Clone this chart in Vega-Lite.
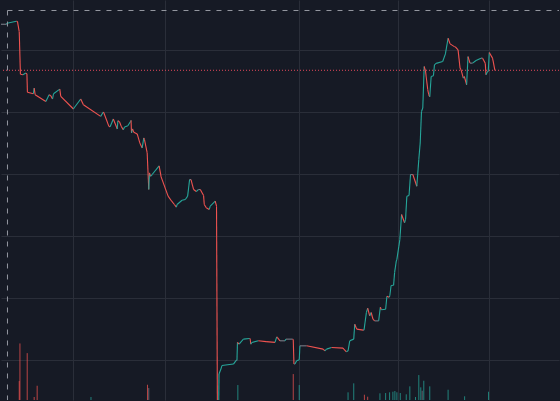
{
  "$schema": "https://vega.github.io/schema/vega-lite/v6.json",
  "width": 560,
  "height": 401,
  "autosize": {"type": "fit", "contains": "padding"},
  "padding": 0,
  "background": "#161a25",
  "config": {
    "view": {"stroke": null},
    "axis": {"grid": true, "gridColor": "#2a2e39", "gridWidth": 1, "gridOpacity": 1, "labels": false, "ticks": false, "domain": false, "title": null}
  },
  "datasets": {
    "price": [
      {"t":0,"p":64.13},{"t":5.5,"p":64.13},{"t":6,"p":64.29},{"t":15.5,"p":64.62},{"t":16.5,"p":64.58},{"t":18.3,"p":62.94},{"t":19.5,"p":56.06},{"t":22,"p":55.98},{"t":25,"p":56.26},{"t":26,"p":56.14},{"t":26.5,"p":53.17},{"t":32.5,"p":52.93},{"t":33.3,"p":53.84},{"t":34.3,"p":52.77},{"t":45,"p":51.69},{"t":48.3,"p":52.77},{"t":50,"p":52.61},{"t":51.7,"p":52.08},{"t":52.7,"p":52.93},{"t":59,"p":53.68},{"t":60,"p":52.49},{"t":72.7,"p":50.47},{"t":73.3,"p":50.63},{"t":80,"p":52.08},{"t":82.7,"p":51.16},{"t":100,"p":49.28},{"t":102.7,"p":49.99},{"t":103.3,"p":49.83},{"t":108.3,"p":47.67},{"t":109.5,"p":47.62},{"t":112.7,"p":48.86},{"t":116.7,"p":47.25},{"t":117.3,"p":48.59},{"t":119,"p":48.38},{"t":120.7,"p":47.67},{"t":122.7,"p":47.14},{"t":124,"p":47.57},{"t":127.3,"p":47.78},{"t":130,"p":48.47},{"t":130.5,"p":48.64},{"t":131,"p":46.61},{"t":132,"p":47.25},{"t":133.3,"p":46.71},{"t":136.7,"p":46.45},{"t":139.3,"p":45.00},{"t":141.7,"p":44.20},{"t":143.3,"p":45.81},{"t":144,"p":45.53},{"t":146.7,"p":43.39},{"t":148.3,"p":37.49},{"t":149,"p":40.18},{"t":150,"p":39.63},{"t":151.7,"p":39.91},{"t":158.7,"p":41.30},{"t":160.7,"p":39.54},{"t":167.7,"p":36.42},{"t":171.3,"p":35.61},{"t":174,"p":35.08},{"t":176,"p":34.65},{"t":176.7,"p":35.08},{"t":181.7,"p":35.77},{"t":185,"p":35.89},{"t":187.3,"p":36.42},{"t":189.3,"p":39.10},{"t":190.7,"p":39.10},{"t":193.3,"p":37.49},{"t":196,"p":37.17},{"t":198,"p":37.49},{"t":200,"p":37.49},{"t":203.3,"p":36.53},{"t":204,"p":35.08},{"t":206,"p":34.55},{"t":209,"p":34.28},{"t":210,"p":34.81},{"t":215,"p":35.61},{"t":216.3,"p":34.81},{"t":217.2,"p":1.32},{"t":218.4,"p":1.32},{"t":218.8,"p":7.75},{"t":220.7,"p":8.56},{"t":221.7,"p":9.12},{"t":233.3,"p":9.36},{"t":236,"p":9.95},{"t":236.8,"p":9.95},{"t":237.3,"p":12.85},{"t":239,"p":12.57},{"t":241.7,"p":13.11},{"t":243.3,"p":13.38},{"t":249.3,"p":13.49},{"t":250,"p":13.49},{"t":250.7,"p":12.57},{"t":251.7,"p":12.85},{"t":258.3,"p":13.11},{"t":266,"p":12.98},{"t":275,"p":12.85},{"t":276.7,"p":13.75},{"t":277.3,"p":13.65},{"t":280,"p":13.11},{"t":285,"p":13.11},{"t":286,"p":13.38},{"t":292.7,"p":13.38},{"t":293.3,"p":13.30},{"t":294,"p":9.36},{"t":295,"p":9.36},{"t":296.7,"p":9.89},{"t":299.3,"p":10.05},{"t":300,"p":12.30},{"t":306.7,"p":12.30},{"t":323.3,"p":11.77},{"t":325,"p":11.50},{"t":326.7,"p":11.77},{"t":331.7,"p":12.04},{"t":343.3,"p":11.93},{"t":344,"p":11.77},{"t":346.7,"p":11.34},{"t":348.3,"p":11.50},{"t":350,"p":13.11},{"t":354,"p":13.38},{"t":355,"p":15.79},{"t":357,"p":14.99},{"t":363.5,"p":14.83},{"t":364.3,"p":14.83},{"t":366.7,"p":17.67},{"t":368,"p":18.36},{"t":370,"p":17.12},{"t":371.5,"p":17.67},{"t":373.3,"p":16.59},{"t":375,"p":16.32},{"t":379,"p":16.32},{"t":380.7,"p":18.52},{"t":381.7,"p":18.12},{"t":386,"p":18.20},{"t":387.3,"p":20.29},{"t":389.5,"p":20.13},{"t":390.2,"p":20.37},{"t":391.5,"p":22.03},{"t":394,"p":22.06},{"t":395,"p":24.10},{"t":396.7,"p":25.97},{"t":397.3,"p":26.24},{"t":399.3,"p":28.38},{"t":400.3,"p":29.46},{"t":402,"p":33.47},{"t":405,"p":32.14},{"t":406,"p":32.67},{"t":407.3,"p":36.42},{"t":409.5,"p":36.53},{"t":411,"p":39.91},{"t":413.3,"p":39.91},{"t":417.3,"p":38.02},{"t":419.3,"p":42.32},{"t":420.7,"p":45.00},{"t":422,"p":50.08},{"t":423.3,"p":50.63},{"t":424.7,"p":57.32},{"t":426,"p":56.63},{"t":428.3,"p":53.57},{"t":429.3,"p":52.77},{"t":430.3,"p":52.45},{"t":431.7,"p":55.71},{"t":434,"p":55.82},{"t":435,"p":57.59},{"t":436.7,"p":57.83},{"t":443.3,"p":58.12},{"t":446,"p":59.36},{"t":448.7,"p":61.88},{"t":450.7,"p":60.97},{"t":455,"p":60.53},{"t":456,"p":60.48},{"t":458.7,"p":60.00},{"t":460.7,"p":57.06},{"t":461.7,"p":56.79},{"t":464,"p":55.45},{"t":465,"p":55.71},{"t":467.3,"p":54.37},{"t":468.7,"p":58.92},{"t":470.7,"p":57.86},{"t":473.3,"p":57.86},{"t":476.7,"p":58.28},{"t":481.7,"p":58.67},{"t":483.3,"p":58.67},{"t":486,"p":57.86},{"t":486.7,"p":55.98},{"t":488.3,"p":56.51},{"t":489,"p":56.51},{"t":490,"p":59.57},{"t":493.3,"p":58.67},{"t":495.7,"p":56.71}
    ],
    "volume": [
      {"t":18.3,"v":19,"d":"down"},{"t":19,"v":56.7,"d":"down"},{"t":26.3,"v":47,"d":"down"},{"t":33.3,"v":3,"d":"down"},{"t":36.3,"v":14.3,"d":"down"},{"t":90.3,"v":3,"d":"up"},{"t":147,"v":15.3,"d":"down"},{"t":148.3,"v":12,"d":"flat"},{"t":237.7,"v":15,"d":"up"},{"t":293.3,"v":26,"d":"down"},{"t":299.3,"v":15,"d":"up"},{"t":348.3,"v":7.7,"d":"up"},{"t":354,"v":16.7,"d":"up"},{"t":364.7,"v":5.3,"d":"down"},{"t":368,"v":3.3,"d":"down"},{"t":380.3,"v":6.7,"d":"up"},{"t":386,"v":7,"d":"up"},{"t":390,"v":7.7,"d":"up"},{"t":393.3,"v":8.3,"d":"up"},{"t":395.3,"v":9,"d":"up"},{"t":397.3,"v":7.7,"d":"up"},{"t":400.7,"v":7,"d":"up"},{"t":406.7,"v":5.7,"d":"up"},{"t":410.3,"v":13.7,"d":"up"},{"t":416,"v":3,"d":"up"},{"t":419.3,"v":25,"d":"up"},{"t":421.3,"v":12.7,"d":"up"},{"t":422.7,"v":9.3,"d":"flat"},{"t":424.3,"v":19.3,"d":"up"},{"t":430.3,"v":13.7,"d":"up"},{"t":448.7,"v":10.3,"d":"up"},{"t":465.3,"v":3.7,"d":"up"},{"t":489.3,"v":8.3,"d":"up"}
    ]
  },
  "layer": [
    {
      "data": {"name": "volume"},
      "mark": {"type": "rule", "strokeWidth": 1, "opacity": 0.75, "clip": true},
      "encoding": {
        "x": {"field": "t", "type": "quantitative", "scale": {"domain": [0, 560], "nice": false, "zero": false}, "axis": {"values": [72.7, 164.7, 299.3, 398.5, 489.3], "grid": true}},
        "y": {"field": "v", "type": "quantitative", "scale": {"domain": [0, 401], "nice": false, "zero": true}, "axis": null},
        "y2": {"datum": 0},
        "stroke": {"field": "d", "type": "nominal", "scale": {"domain": ["up", "down", "flat"], "range": ["#26a69a", "#ef5350", "#787b86"]}, "legend": null}
      }
    },
    {
      "layer": [
        {
          "data": {"name": "price"},
          "transform": [
            {"window": [{"op": "lead", "field": "p", "as": "p2"}, {"op": "lead", "field": "t", "as": "t2"}], "sort": [{"field": "t", "order": "ascending"}]},
            {"filter": "datum.t2 != null"}
          ],
          "mark": {"type": "rule", "strokeWidth": 1.1, "clip": true},
          "encoding": {
            "x": {"field": "t", "type": "quantitative", "scale": {"domain": [0, 560], "nice": false, "zero": false}, "axis": {"values": [72.7, 164.7, 299.3, 398.5, 489.3], "grid": true}},
            "x2": {"field": "t2"},
            "y": {"field": "p", "type": "quantitative", "scale": {"domain": [3.569, 68.04], "nice": false, "zero": false}, "axis": {"values": [10, 20, 30, 40, 50, 60], "grid": true, "orient": "left"}},
            "y2": {"field": "p2"},
            "stroke": {"condition": [{"test": "datum.p2 > datum.p", "value": "#26a69a"}, {"test": "datum.p2 < datum.p", "value": "#ef5350"}], "value": "#787b86"}
          }
        },
        {
          "data": {"values": [{"label": "last"}]},
          "mark": {"type": "rule", "stroke": "#e5495b", "strokeDash": [1, 2], "strokeWidth": 1},
          "encoding": {
            "y": {"datum": 56.71, "type": "quantitative", "scale": {"domain": [3.569, 68.04], "nice": false, "zero": false}, "axis": {"values": [10, 20, 30, 40, 50, 60], "grid": true, "orient": "left"}}
          }
        },
        {
          "data": {"values": [{"label": "crosshair"}]},
          "mark": {"type": "rule", "stroke": "#9598a1", "strokeDash": [5, 6], "strokeWidth": 1},
          "encoding": {
            "x": {"datum": 6.5, "type": "quantitative", "scale": {"domain": [0, 560], "nice": false, "zero": false}, "axis": {"values": [72.7, 164.7, 299.3, 398.5, 489.3], "grid": true}},
            "x2": {"datum": 560},
            "y": {"datum": 66.35, "type": "quantitative", "scale": {"domain": [3.569, 68.04], "nice": false, "zero": false}, "axis": {"values": [10, 20, 30, 40, 50, 60], "grid": true, "orient": "left"}}
          }
        },
        {
          "data": {"values": [{"label": "crosshair"}]},
          "mark": {"type": "rule", "stroke": "#9598a1", "strokeDash": [5, 6], "strokeWidth": 1},
          "encoding": {
            "x": {"datum": 6.5, "type": "quantitative", "scale": {"domain": [0, 560], "nice": false, "zero": false}, "axis": {"values": [72.7, 164.7, 299.3, 398.5, 489.3], "grid": true}},
            "y": {"datum": 66.35, "type": "quantitative", "scale": {"domain": [3.569, 68.04], "nice": false, "zero": false}, "axis": {"values": [10, 20, 30, 40, 50, 60], "grid": true, "orient": "left"}},
            "y2": {"datum": 3.569}
          }
        }
      ]
    }
  ],
  "resolve": {"scale": {"y": "independent"}}
}
